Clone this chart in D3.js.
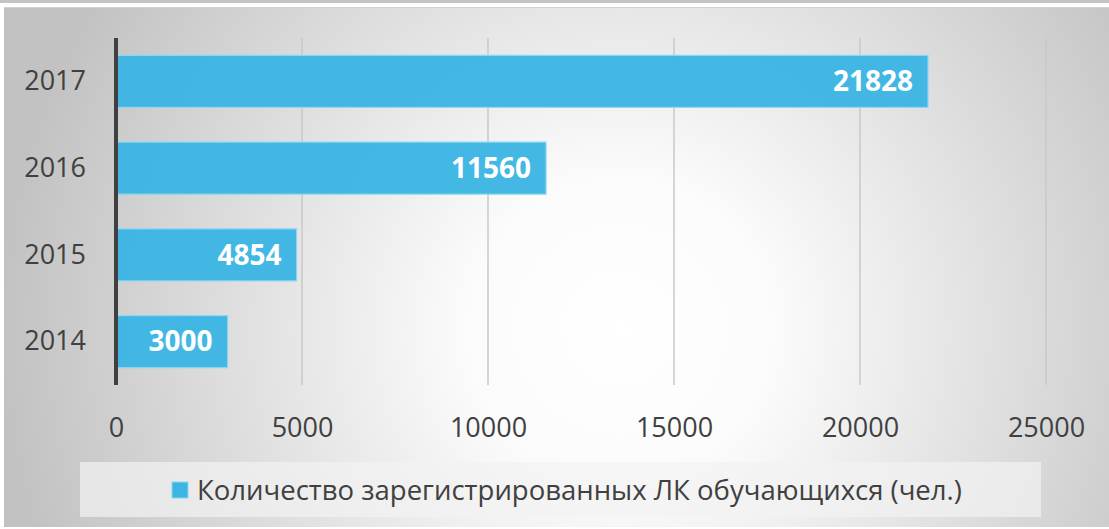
<!doctype html>
<html>
	<head>
		<meta charset="utf-8">
		<title>Количество зарегистрированных ЛК</title>
		<style>
			body{
				margin: 0;
				background-color: white;
			}
			svg{
				display: block;
				font-family: "Open Sans", sans-serif;
			}
		</style>
	</head>
	<body>
		<script src="https://cdn.jsdelivr.net/npm/d3@7"></script>
		<script>
			var years = ["2017", "2016", "2015", "2014"];
			var counts = [21828, 11560, 4854, 3000];
			var xTicks = [0, 5000, 10000, 15000, 20000, 25000];
			var seriesName = "Количество зарегистрированных ЛК обучающихся (чел.)";

			var width = 1109, height = 529;
			var barColor = "#3bb5e4";

			var svg = d3.select("body").append("svg")
				.attr("width", width).attr("height", height);

			var defs = svg.append("defs");
			var grad = defs.append("radialGradient")
				.attr("id", "bg")
				.attr("gradientUnits", "userSpaceOnUse")
				.attr("cx", 620).attr("cy", 330).attr("r", 620);
			grad.append("stop").attr("offset", "0%").attr("stop-color", "#ffffff");
			grad.append("stop").attr("offset", "25%").attr("stop-color", "#fbfbfb");
			grad.append("stop").attr("offset", "100%").attr("stop-color", "#c2c2c2");

			// top strip lines
			svg.append("rect").attr("x", 0).attr("y", 0).attr("width", width).attr("height", 3)
				.style("fill", "#c4c4c4");
			svg.append("rect").attr("x", 4).attr("y", 7).attr("width", width - 4).attr("height", 2)
				.style("fill", "#d0d0d0");

			// panel
			svg.append("rect").attr("x", 4).attr("y", 8).attr("width", width - 4).attr("height", height - 10)
				.style("fill", "url(#bg)");

			var x = d3.scaleLinear().domain([0, 25000]).range([116, 1046]);
			var y = d3.scaleBand().domain(years).range([38, 385])
				.paddingInner(0.4).paddingOuter(0.2);

			// gridlines
			svg.append("g").selectAll("line")
				.data(xTicks.slice(1)).enter().append("line")
				.attr("x1", function(d){ return x(d); })
				.attr("x2", function(d){ return x(d); })
				.attr("y1", 38).attr("y2", 385)
				.style("stroke", "#c8c8c8")
				.style("stroke-width", 1.5);

			// bars
			svg.append("g").selectAll("rect")
				.data(years).enter().append("rect")
				.attr("x", x(0))
				.attr("y", function(d){ return y(d); })
				.attr("width", function(d, i){ return x(counts[i]) - x(0); })
				.attr("height", y.bandwidth())
				.style("fill", barColor)
				.style("fill-opacity", 0.96)
				.style("stroke", "#8fd6f2")
				.style("stroke-width", 1.2);

			// value labels
			svg.append("g").selectAll("text")
				.data(years).enter().append("text")
				.attr("x", function(d, i){ return x(counts[i]) - 15; })
				.attr("y", function(d){ return y(d) + y.bandwidth() / 2; })
				.attr("dy", "0.35em")
				.attr("text-anchor", "end")
				.style("fill", "white")
				.style("font-weight", "bold")
				.style("font-size", "28px")
				.text(function(d, i){ return counts[i]; });

			// y axis
			var yAxis = svg.append("g")
				.attr("transform", "translate(" + x(0) + ",0)")
				.call(d3.axisLeft(y).tickSize(0).tickPadding(30));
			yAxis.select(".domain")
				.attr("d", "M0,38V385")
				.style("stroke", "#404040")
				.style("stroke-width", 4);
			yAxis.selectAll("text")
				.style("font-size", "27px")
				.style("font-family", "'Open Sans', sans-serif")
				.style("fill", "#404040");

			// x axis labels
			var xAxis = svg.append("g")
				.attr("transform", "translate(0,385)")
				.call(d3.axisBottom(x).tickValues(xTicks).tickSize(0).tickPadding(33).tickFormat(d3.format("d")));
			xAxis.select(".domain").remove();
			xAxis.selectAll("text")
				.style("font-size", "27px")
				.style("font-family", "'Open Sans', sans-serif")
				.style("fill", "#404040");

			// legend
			var legend = svg.append("g");
			legend.append("rect")
				.attr("x", 80).attr("y", 462).attr("width", 961).attr("height", 55)
				.style("fill", "#f2f2f2").style("fill-opacity", 0.7);
			legend.append("rect")
				.attr("x", 172).attr("y", 482).attr("width", 16).attr("height", 16)
				.style("fill", barColor)
				.style("stroke", "#8fd6f2").style("stroke-width", 1);
			legend.append("text")
				.attr("x", 197).attr("y", 490)
				.attr("dy", "0.35em")
				.style("font-size", "27.5px")
				.style("fill", "#404040")
				.text(seriesName);
		</script>
	</body>
</html>
